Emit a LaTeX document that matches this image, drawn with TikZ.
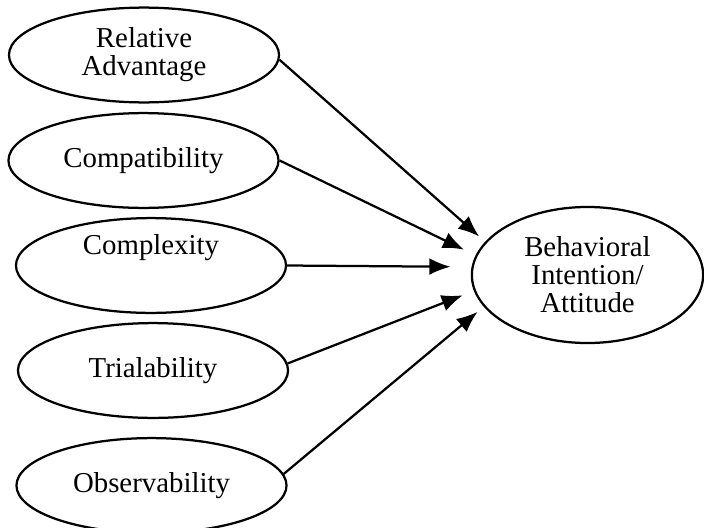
\documentclass[tikz,border=0pt]{standalone}
\usepackage{fontspec}
\setmainfont{Liberation Serif}
\usetikzlibrary{arrows.meta, shapes.geometric}

\begin{document}
\begin{tikzpicture}[
    x=0.025cm, y=-0.025cm,
    >={Latex[length=15pt, width=12pt]},
    every edge/.style={draw, line width=1.6pt},
    factor/.style={ellipse, draw, line width=1.6pt, inner sep=0pt, minimum width=6.75cm, minimum height=2.37cm, align=center, font=\fontsize{20.5}{20}\selectfont},
    outcome/.style={factor, minimum width=5.78cm, minimum height=3.4cm}]

    \useasboundingbox (0,0) rectangle (704,527);

    \node at (144,55) [factor] (relative) {Relative \\ Advantage};
    \node at (143.5,160.5) [factor] (compat) {Compatibility};
    \node at (151,265.5) [factor] (complex) {};
    \node at (151,248) [font=\fontsize{20.5}{20}\selectfont] (complextext) {Complexity};
    \node at (153,370.5) [factor] (trial) {Trialability};
    \node at (151.5,485.5) [factor] (observe) {Observability};

    \node at (587.5,275) [outcome] (intention) {Behavioral \\ Intention/ \\ Attitude};

    %%% Relations to the outcome
    \path (relative.-2) edge [->, shorten >=5.7pt] (intention.162.6);
    \path (compat.east) edge [->, shorten >=9.2pt] (intention.170.3);
    \path (complex.east) edge [->, shorten >=15pt] (intention.176);
    \path (trial.3) edge [->, shorten >=8.5pt] (intention.188);
    \path (observe.5) edge [->, shorten >=5.7pt] (intention.197.4);

\end{tikzpicture}
\end{document}
